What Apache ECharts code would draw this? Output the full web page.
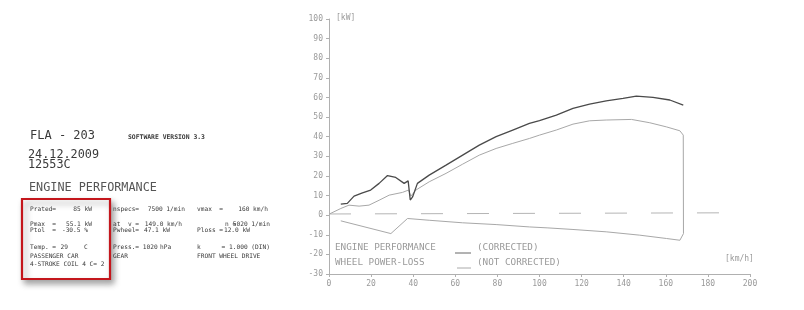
<!DOCTYPE html>
<html>
<head>
<meta charset="utf-8">
<script src="https://cdn.jsdelivr.net/npm/echarts@6/dist/echarts.min.js"></script>
<style>
html,body{margin:0;padding:0;background:#fff;}
#c{width:804px;height:310px;}
</style>
</head>
<body>
<div id="c"></div>
<script>
// ---- data (km/h, kW) ----
var engineSpeed = [5.6, 8.7, 11.9, 15.9, 19.8, 23.8, 27.8, 31.7, 35.7, 37.6, 38.6, 39.7, 42, 47.6, 55.6, 63.5, 71.4, 79.4, 87.3, 95.2, 100, 108, 115.9, 123.8, 131.7, 139.7, 146, 153.9, 161.9, 168.3];
var enginePower = [5.6, 6, 9.7, 11.4, 12.8, 16.2, 20.2, 19.2, 16.2, 17.5, 7.7, 9.3, 16.2, 20.4, 25.5, 30.6, 35.7, 40, 43.4, 46.8, 48.2, 51, 54.4, 56.6, 58.3, 59.5, 60.7, 60, 58.7, 56.1];

var wheelSpeed = [0, 5.6, 9.5, 14.3, 19, 23.8, 28.6, 34.9, 37.8, 38.9, 41.3, 47.6, 55.6, 63.5, 71.4, 79.4, 87.3, 95.2, 100, 108, 115.9, 123.8, 131.7, 143.7, 152.4, 160.3, 166.7, 168.3, 168.4];
var wheelPower = [0.5, 3.4, 5.1, 4.6, 5.1, 7.6, 10.2, 11.6, 12.8, 9.7, 12.8, 17, 21.3, 26, 30.6, 34, 36.6, 39.1, 40.8, 43.4, 46.4, 48.1, 48.5, 48.8, 47.1, 45, 43, 40.8, -9.4];

var lossSpeed = [5.6, 29.4, 37.3, 47.6, 63.5, 79.4, 95.2, 104, 115.9, 131.7, 147.6, 160.3, 166.7, 168.4];
var lossPower = [-2.9, -9.4, -1.7, -2.6, -3.9, -4.8, -6, -6.5, -7.3, -8.5, -10.2, -11.9, -12.8, -9.4];

var refSpeed = [0, 190];
var refPower = [0.6, 1.2];

var xTicks = [0, 20, 40, 60, 80, 100, 120, 140, 160, 180, 200];
var yTicks = [-30, -20, -10, 0, 10, 20, 30, 40, 50, 60, 70, 80, 90, 100];

function pairs(a, b) { return a.map(function (v, i) { return [v, b[i]]; }); }

var MONO = "'DejaVu Sans Mono', 'Liberation Mono', monospace";
var INK = '#3a3a3a';
var LIGHT = '#9a9a9a';

function t(x, y, s, size, opts) {
  opts = opts || {};
  return {
    type: 'text', x: x, y: y, z: 10, silent: true,
    style: {
      text: s, x: 0, y: 0,
      font: (opts.bold ? 'bold ' : '') + size + 'px ' + MONO,
      fill: opts.color || INK,
      align: opts.align || 'left',
      verticalAlign: 'middle'
    }
  };
}

var FS = 6.2;
var R = { align: 'right' };
var graphics = [
  // red frame with shadow
  { type: 'rect', z: 1, shape: { x: 22, y: 199, width: 88, height: 80 },
    style: { fill: '#fff', stroke: '#c4161c', lineWidth: 2.2, shadowBlur: 6, shadowOffsetX: 3, shadowOffsetY: 4, shadowColor: 'rgba(0,0,0,0.35)' } },
  t(30, 136, 'FLA - 203', 12),
  t(128, 137, 'SOFTWARE VERSION 3.3', 6.4, { bold: true }),
  t(28, 155, '24.12.2009', 11.8),
  t(28, 165, '12553C', 11.8),
  t(29, 188, 'ENGINE PERFORMANCE', 11.8, { color: '#555' }),

  t(30, 209, 'Prated=', FS), t(92, 209, '85 kW', FS, R),
  t(113, 209, 'nspecs=', FS), t(185, 209, '7500 1/min', FS, R),
  t(197, 209, 'vmax  =', FS), t(268, 209, '160 km/h', FS, R),

  t(30, 224, 'Pmax  =', FS), t(92, 224, '55.1 kW', FS, R),
  t(113, 224, 'at  v =', FS), t(182, 224, '149.0 km/h', FS, R),
  t(225, 224, 'n =', FS), t(270, 224, '5020 1/min', FS, R),

  t(30, 230, 'Ptol  =', FS), t(88, 230, '-30.5 %', FS, R),
  t(113, 230, 'Pwheel=', FS), t(170, 230, '47.1 kW', FS, R),
  t(197, 230, 'Ploss =', FS), t(250, 230, '12.0 kW', FS, R),

  t(30, 247, 'Temp. =', FS), t(68, 247, '29', FS, R), t(84, 247, 'C', FS),
  t(113, 247, 'Press.= 1020', FS), t(160, 247, 'hPa', FS),
  t(197, 247, 'k', FS), t(270, 247, '= 1.000 (DIN)', FS, R),

  t(30, 256, 'PASSENGER CAR', FS),
  t(113, 256, 'GEAR', FS),
  t(197, 256, 'FRONT WHEEL DRIVE', FS),
  t(30, 264, '4-STROKE COIL 4 C= 2', FS),

  // chart annotations
  t(336, 18, '[kW]', 8, { color: LIGHT }),
  t(725, 259, '[km/h]', 8, { color: LIGHT }),
  t(335, 248, 'ENGINE PERFORMANCE', 9.3, { color: LIGHT }),
  t(477, 248, '(CORRECTED)', 9.3, { color: LIGHT }),
  t(335, 263, 'WHEEL POWER-LOSS', 9.3, { color: LIGHT }),
  t(477, 263, '(NOT CORRECTED)', 9.3, { color: LIGHT }),
  { type: 'line', z: 10, shape: { x1: 455, y1: 253, x2: 471, y2: 253 }, style: { stroke: '#666', lineWidth: 1 } },
  { type: 'line', z: 10, shape: { x1: 457, y1: 268, x2: 471, y2: 268 }, style: { stroke: '#aaa', lineWidth: 1 } }
];

var chart = echarts.init(document.getElementById('c'), null, { renderer: 'canvas' });
chart.setOption({
  backgroundColor: '#ffffff',
  animation: false,
  grid: { left: 329, right: 54, top: 19, bottom: 36, containLabel: false },
  xAxis: {
    type: 'value', min: xTicks[0], max: xTicks[xTicks.length - 1], interval: 20,
    axisLine: { onZero: false, lineStyle: { color: '#b0b0b0', width: 1 } },
    axisTick: { show: true, length: 3, lineStyle: { color: '#b0b0b0' } },
    splitLine: { show: false },
    axisLabel: { color: LIGHT, fontFamily: MONO, fontSize: 8, margin: 6 }
  },
  yAxis: {
    type: 'value', min: yTicks[0], max: yTicks[yTicks.length - 1], interval: 10,
    axisLine: { show: true, lineStyle: { color: '#b0b0b0', width: 1 } },
    axisTick: { show: true, length: 3, lineStyle: { color: '#b0b0b0' } },
    splitLine: { show: false },
    axisLabel: { color: LIGHT, fontFamily: MONO, fontSize: 8, margin: 6 }
  },
  graphic: graphics,
  series: [
    { type: 'line', data: pairs(refSpeed, refPower), symbol: 'none', silent: true,
      lineStyle: { color: '#b5b5b5', width: 1, type: [22, 24] } },
    { type: 'line', data: pairs(lossSpeed, lossPower), symbol: 'none', silent: true,
      lineStyle: { color: '#a8a8a8', width: 1 } },
    { type: 'line', data: pairs(wheelSpeed, wheelPower), symbol: 'none', silent: true,
      lineStyle: { color: '#a8a8a8', width: 1 } },
    { type: 'line', data: pairs(engineSpeed, enginePower), symbol: 'none', silent: true,
      lineStyle: { color: '#4a4a4a', width: 1.3 } }
  ]
});
</script>
</body>
</html>
